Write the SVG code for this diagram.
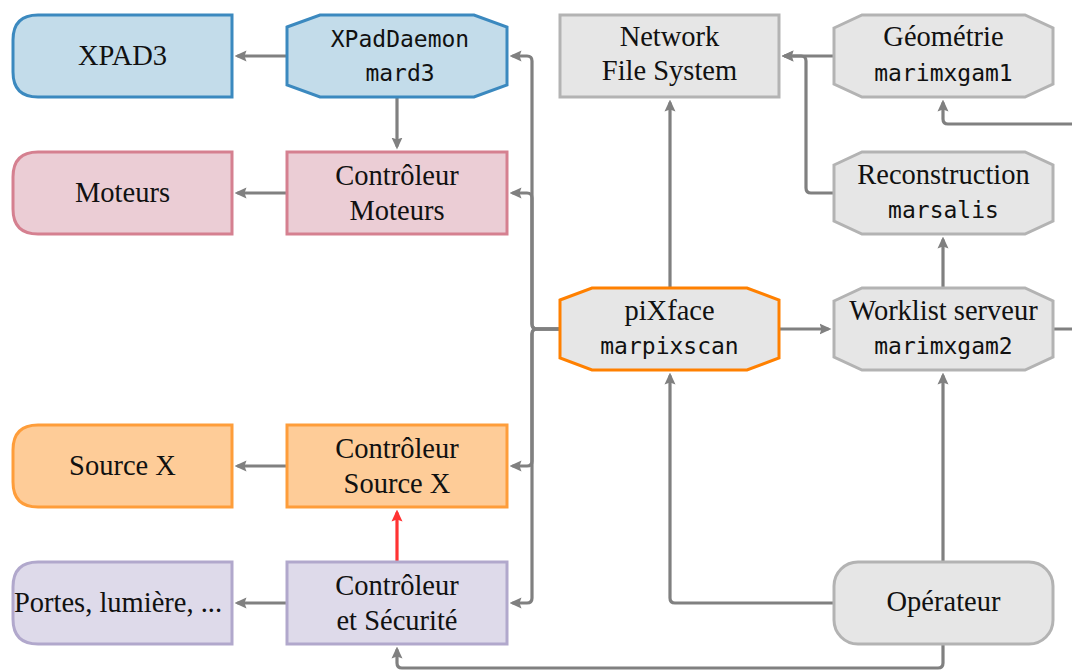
<svg xmlns="http://www.w3.org/2000/svg" width="1072" height="670" viewBox="0 0 1072 670">
<style>
.blue{fill:#c3dcea;stroke:#3b89bf;stroke-width:3}
.pink{fill:#ebcdd5;stroke:#d58090;stroke-width:3}
.orange{fill:#fecc98;stroke:#fe9d3a;stroke-width:3}
.purple{fill:#dedaea;stroke:#b1a8cc;stroke-width:3}
.gray{fill:#e6e6e6;stroke:#b3b3b3;stroke-width:3}
.pix{fill:#e6e6e6;stroke:#ff8000;stroke-width:3}
.t{font-family:"Liberation Serif","Times New Roman",serif;font-size:28.5px;fill:#111;text-anchor:middle}
.m{font-family:"DejaVu Sans Mono","Liberation Mono",monospace;font-size:23px;fill:#111;text-anchor:middle}
.c{fill:none;stroke:#808080;stroke-width:3.2;marker-end:url(#ah)}
.r{fill:none;stroke:#ff3333;stroke-width:3.2;marker-end:url(#ahr)}
</style>
<defs>
<marker id="ah" viewBox="0 0 12 12" refX="9" refY="6" markerWidth="12" markerHeight="12" markerUnits="userSpaceOnUse" orient="auto"><path d="M0,0.5 L12,6 L0,11.5 L2,6 Z" fill="#808080"/></marker>
<marker id="ahr" viewBox="0 0 12 12" refX="9" refY="6" markerWidth="12" markerHeight="12" markerUnits="userSpaceOnUse" orient="auto"><path d="M0,0.5 L12,6 L0,11.5 L2,6 Z" fill="#ff3333"/></marker>
</defs>
<rect width="1072" height="670" fill="#fff"/>
<g id="connectors">
<path class="c" d="M287,56 H237.5"/>
<path class="c" d="M397,97 V146.5"/>
<path class="c" d="M287,193 H237.5"/>
<path class="c" d="M287,466 H237.5"/>
<path class="c" d="M287,603 H237.5"/>
<path class="r" d="M397,562 V512.5"/>
<path class="c" d="M560,329 H537 Q532,329 532,324 V61 Q532,56 527,56 H512.5"/>
<path class="c" d="M560,329 H537 Q532,329 532,324 V198 Q532,193 527,193 H512.5"/>
<path class="c" d="M560,329 H537 Q532,329 532,334 V461 Q532,466 527,466 H512.5"/>
<path class="c" d="M560,329 H537 Q532,329 532,334 V598 Q532,603 527,603 H512.5"/>
<path class="c" d="M670,288 V102.5"/>
<path class="c" d="M779,329 H828.5"/>
<path class="c" d="M834,56 H784.5"/>
<path class="c" d="M834,193 H811 Q806,193 806,188 V61 Q806,56 801,56 H784.5"/>
<path class="c" d="M943,288 V239.5"/>
<path class="c" d="M1053,329 H1090 V124 H948 Q943,124 943,119 V102.5"/>
<path class="c" d="M834,603 H675 Q670,603 670,598 V375.5"/>
<path class="c" d="M943,562 V375.5"/>
<path class="c" d="M943,644 V663 Q943,668 938,668 H402 Q397,668 397,663 V649.5"/>
</g>
<g id="xpad3">
<path class="blue" d="M38,15 H232 V97 H38 Q13,97 13,72 V40 Q13,15 38,15 Z"/>
<text class="t" x="122.5" y="65">XPAD3</text>
</g>
<g id="xpaddaemon">
<polygon class="blue" points="287,27 320,15 474,15 507,27 507,85 474,97 320,97 287,85"/>
<text class="m" x="400" y="47">XPadDaemon</text>
<text class="m" x="400" y="81">mard3</text>
</g>
<g id="moteurs">
<path class="pink" d="M38,152 H232 V234 H38 Q13,234 13,209 V177 Q13,152 38,152 Z"/>
<text class="t" x="122.5" y="202">Moteurs</text>
</g>
<g id="ctrl-moteurs">
<rect class="pink" x="287" y="152" width="220" height="82"/>
<text class="t" x="397" y="185">Contrôleur</text>
<text class="t" x="397" y="220">Moteurs</text>
</g>
<g id="source-x">
<path class="orange" d="M38,425 H232 V507 H38 Q13,507 13,482 V450 Q13,425 38,425 Z"/>
<text class="t" x="122.5" y="475">Source X</text>
</g>
<g id="ctrl-source-x">
<rect class="orange" x="287" y="425" width="220" height="82"/>
<text class="t" x="397" y="458">Contrôleur</text>
<text class="t" x="397" y="493">Source X</text>
</g>
<g id="portes">
<path class="purple" d="M38,562 H232 V644 H38 Q13,644 13,619 V587 Q13,562 38,562 Z"/>
<text class="t" x="118" y="612">Portes, lumière, ...</text>
</g>
<g id="ctrl-securite">
<rect class="purple" x="287" y="562" width="220" height="82"/>
<text class="t" x="397" y="595">Contrôleur</text>
<text class="t" x="397" y="630">et Sécurité</text>
</g>
<g id="nfs">
<rect class="gray" x="560" y="15" width="219" height="82"/>
<text class="t" x="669.5" y="46">Network</text>
<text class="t" x="669.5" y="80">File System</text>
</g>
<g id="geometrie">
<polygon class="gray" points="834,28 862,15 1025,15 1053,28 1053,84 1025,97 862,97 834,84"/>
<text class="t" x="943.5" y="46">Géométrie</text>
<text class="m" x="943.5" y="81">marimxgam1</text>
</g>
<g id="reconstruction">
<polygon class="gray" points="834,165 862,152 1025,152 1053,165 1053,221 1025,234 862,234 834,221"/>
<text class="t" x="943.5" y="184">Reconstruction</text>
<text class="m" x="943.5" y="218">marsalis</text>
</g>
<g id="pixface">
<polygon class="pix" points="560,300 592,288 747,288 779,300 779,358 747,370 592,370 560,358"/>
<text class="t" x="669.5" y="320">piXface</text>
<text class="m" x="669.5" y="354">marpixscan</text>
</g>
<g id="worklist">
<polygon class="gray" points="834,301 862,288 1025,288 1053,301 1053,357 1025,370 862,370 834,357"/>
<text class="t" x="943.5" y="320">Worklist serveur</text>
<text class="m" x="943.5" y="354">marimxgam2</text>
</g>
<g id="operateur">
<rect class="gray" x="834" y="562" width="219" height="82" rx="24" ry="24"/>
<text class="t" x="943.5" y="611">Opérateur</text>
</g>
</svg>
